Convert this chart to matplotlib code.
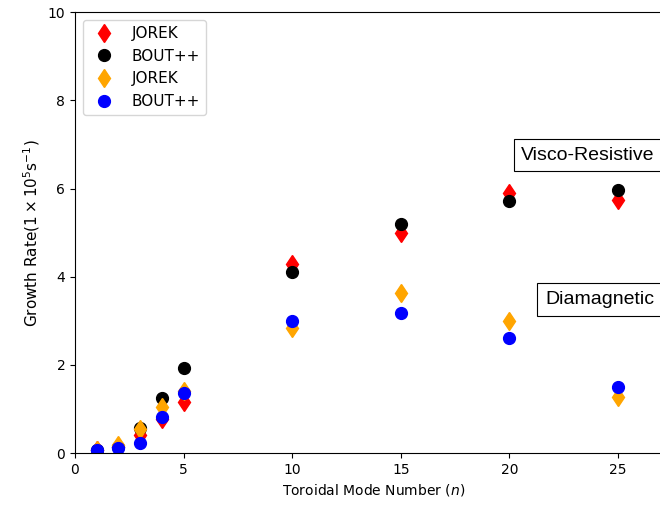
import matplotlib
matplotlib.use('Agg')
import matplotlib.pyplot as plt

# toroidal mode numbers
n = [1, 2, 3, 4, 5, 10, 15, 20, 25]

# visco-resistive case
jorek_vr = [0.07, 0.15, 0.42, 0.77, 1.16, 4.28, 5.00, 5.90, 5.74]
bout_vr = [0.08, 0.14, 0.58, 1.25, 1.93, 4.10, 5.19, 5.71, 5.96]

# diamagnetic case
jorek_dia = [0.07, 0.18, 0.55, 1.05, 1.40, 2.83, 3.63, 2.99, 1.28]
bout_dia = [0.08, 0.11, 0.22, 0.81, 1.37, 2.99, 3.17, 2.60, 1.49]

fig = plt.figure(figsize=(6.6, 5.08), dpi=100)
ax = fig.add_axes([0.1136, 0.108, 0.905, 0.868])

ax.plot(n, jorek_vr, 'd', color='red', markersize=9.5, label='JOREK')
ax.plot(n, bout_vr, 'o', color='black', markersize=8.5, label='BOUT++')
ax.plot(n, jorek_dia, 'd', color='orange', markersize=9.5, label='JOREK')
ax.plot(n, bout_dia, 'o', color='blue', markersize=8.5, label='BOUT++')

ax.set_xlim(0, 27.5)
ax.set_ylim(0, 10)
ax.set_xticks([0, 5, 10, 15, 20, 25])
ax.set_yticks([0, 2, 4, 6, 8, 10])
ax.tick_params(labelsize=10)

ax.set_xlabel('Toroidal Mode Number ($n$)', fontsize=10)
ax.set_ylabel('Growth Rate$(1\\times10^{5}\\mathrm{s}^{-1})$', fontsize=11)

box = dict(boxstyle='square,pad=0.4', facecolor='white', edgecolor='black', linewidth=0.8)
ax.text(20.55, 6.76, 'Visco-Resistive', fontsize=14, family='Liberation Sans',
        va='center', ha='left', bbox=box)
ax.text(21.65, 3.49, 'Diamagnetic', fontsize=14, family='Liberation Sans',
        va='center', ha='left', bbox=box)

ax.legend(loc='upper left', fontsize=11)

fig.savefig('out.png', dpi=100)
